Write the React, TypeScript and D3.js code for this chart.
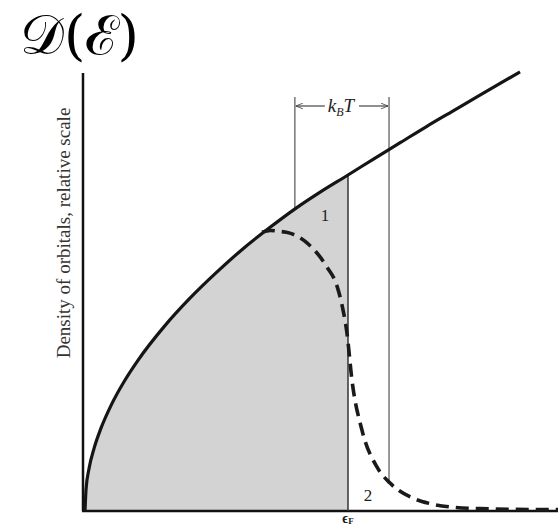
import React from "react";
import * as d3 from "d3";

// Density of orbitals D(ε) (solid), in units where ε_F = 1 and D(ε_F) = 1
const solidE = [0, 0.004, 0.015, 0.035, 0.06, 0.1, 0.15, 0.2, 0.3, 0.4, 0.5, 0.6, 0.7, 0.8, 0.9, 1.0, 1.1, 1.2, 1.3, 1.4, 1.5, 1.654];
const solidD = [0, 0.065, 0.125, 0.188, 0.245, 0.316, 0.387, 0.447, 0.548, 0.634, 0.71, 0.78, 0.842, 0.9, 0.952, 1.0, 1.049, 1.097, 1.145, 1.191, 1.237, 1.307];

// D(ε) f(ε, T) (dashed)
const dashE = [0.673, 0.705, 0.73, 0.779, 0.844, 0.92, 0.958, 0.978, 0.996, 1.015, 1.053, 1.11, 1.16, 1.247, 1.312, 1.388, 1.5, 1.8];
const dashD = [0.83, 0.835, 0.833, 0.827, 0.798, 0.726, 0.67, 0.61, 0.53, 0.39, 0.241, 0.131, 0.083, 0.038, 0.022, 0.012, 0.007, 0.004];

const fermiE = 1.0;
const kbtLow = 0.798;
const kbtHigh = 1.156;

const yAxisLabel = "Density of orbitals, relative scale";
const titleText = "𝒟(ℰ)";

export default function App() {
  const W = 558, H = 527;
  const x = d3.scaleLinear().domain([0, 1.8]).range([85, 85 + 1.8 * 263]);
  const y = d3.scaleLinear().domain([0, 1]).range([511, 175]);

  const solidPts: [number, number][] = solidE.map((e, i) => [e, solidD[i]]);
  const dashPts: [number, number][] = dashE.map((e, i) => [e, dashD[i]]);

  const line = d3.line<[number, number]>().x(d => x(d[0])).y(d => y(d[1])).curve(d3.curveMonotoneX);
  const area = d3.area<[number, number]>().x(d => x(d[0])).y0(y(0)).y1(d => y(d[1])).curve(d3.curveMonotoneX);
  const shaded = solidPts.filter(p => p[0] <= fermiE);

  const interp = (e: number) => {
    for (let i = 0; i < solidE.length - 1; i++) {
      if (e >= solidE[i] && e <= solidE[i + 1]) {
        const t = (e - solidE[i]) / (solidE[i + 1] - solidE[i]);
        return solidD[i] + t * (solidD[i + 1] - solidD[i]);
      }
    }
    return solidD[solidD.length - 1];
  };

  const arrowY = 106;
  const topY = 97;
  const xl = x(kbtLow), xh = x(kbtHigh);
  const serif = "'Liberation Serif', 'DejaVu Serif', serif";

  return (
    <svg width={W} height={H} style={{ position: "absolute", left: 0, top: 0, background: "#fff" }}>
      <defs>
        <marker id="ah" viewBox="0 0 10 10" refX="10" refY="5" markerWidth="9" markerHeight="7" orient="auto-start-reverse" markerUnits="userSpaceOnUse">
          <path d="M0,1 L10,5 L0,9" fill="none" stroke="#444" strokeWidth="1.2" />
        </marker>
      </defs>
      <text x={20} y={54} fontSize={55} fontFamily="'DejaVu Serif', serif" fill="#000">{titleText}</text>

      <path d={area(shaded) || ""} fill="#d3d3d3" />

      {/* axes */}
      <line x1={x(0) - 2} y1={73} x2={x(0) - 2} y2={y(0)} stroke="#111" strokeWidth={2.5} />
      <line x1={x(0) - 3} y1={y(0)} x2={W} y2={y(0)} stroke="#111" strokeWidth={2.5} />

      {/* Fermi line */}
      <line x1={x(fermiE)} y1={y(interp(fermiE))} x2={x(fermiE)} y2={y(0)} stroke="#333" strokeWidth={1.5} />

      {/* kBT lines */}
      <line x1={xl} y1={topY} x2={xl} y2={y(interp(kbtLow))} stroke="#555" strokeWidth={1.2} />
      <line x1={xh} y1={topY} x2={xh} y2={482} stroke="#555" strokeWidth={1.2} />
      <line x1={xl + 30} y1={arrowY} x2={xl + 1} y2={arrowY} stroke="#444" strokeWidth={1.2} markerEnd="url(#ah)" />
      <line x1={xh - 30} y1={arrowY} x2={xh - 1} y2={arrowY} stroke="#444" strokeWidth={1.2} markerEnd="url(#ah)" />
      <text x={(xl + xh) / 2 - 1} y={arrowY + 6} textAnchor="middle" fontFamily={serif} fontSize={19} fontStyle="italic" fill="#222">
        k<tspan fontSize={12} dy={4}>B</tspan><tspan dy={-4}>T</tspan>
      </text>

      <path d={line(solidPts) || ""} fill="none" stroke="#151515" strokeWidth={3.2} />
      <path d={line(dashPts) || ""} fill="none" stroke="#1a1a1a" strokeWidth={3.6} strokeDasharray="13 7" />

      <text x={325} y={221} textAnchor="middle" fontFamily={serif} fontSize={17} fill="#222">1</text>
      <text x={368} y={501} textAnchor="middle" fontFamily={serif} fontSize={17} fill="#222">2</text>
      <text x={x(fermiE)} y={523} textAnchor="middle" fontFamily={serif} fontSize={14} fill="#222" fontWeight="bold">
        ϵ<tspan fontSize={9} dy={1}>F</tspan>
      </text>

      <text transform={`translate(70, 233) rotate(-90)`} textAnchor="middle" fontFamily={serif} fontSize={19} fill="#333">{yAxisLabel}</text>
    </svg>
  );
}
